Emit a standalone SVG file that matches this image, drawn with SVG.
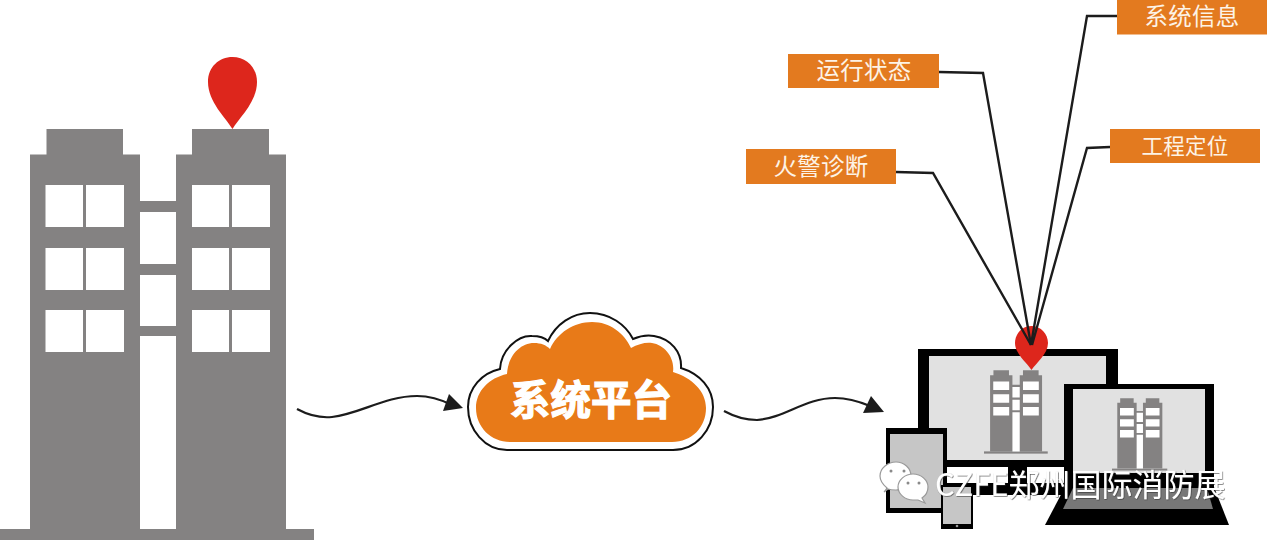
<svg xmlns="http://www.w3.org/2000/svg" width="1267" height="540" viewBox="0 0 1267 540">
<style>
.tw{fill:#848282}
.win{fill:#fff}
.pin{fill:#dd261c}
.box{fill:#e37a1f}
.lbl{font-family:"Noto Sans CJK SC","Noto Sans",sans-serif;font-size:23.5px;fill:#fdf3e6;text-anchor:middle;letter-spacing:.2px}
.blk{fill:#000}
.scr{fill:#e1e1e1}
.tab{fill:#c6c6c6}
.line{fill:none;stroke:#1c1c1c;stroke-width:2.400;stroke-linejoin:miter}
.wave{fill:none;stroke:#1c1c1c;stroke-width:2.200}
.head{fill:#1c1c1c}
.bub{fill:#fff;stroke:#9a9a9a;stroke-width:1.200}
.eye{fill:#8a8a8a}
</style>
<defs>
<filter id="sh" x="-5%" y="-20%" width="110%" height="140%">
<feDropShadow dx="0.6" dy="0.6" stdDeviation="0.7" flood-color="#333" flood-opacity="0.9"/>
</filter>
<g id="frame">
<path class="tw" d="M30 529V154.500H46.500V129H123V154.500H140V201H176V154.500H192V129H269V154.500H286V529Z"/>
<rect class="tw" x="0" y="529" width="314" height="11"/>
<path class="win" d="M140 212h36v52h-36zM140 275h36v51h-36zM140 336h36v193h-36z"/>
</g>
<g id="bld">
<use href="#frame"/>
<path class="win" d="M45.500 185h37.500v42h-37.500zM86 185h38v42h-38zM192 185h37v42h-37zM232 185h38v42h-38zM45.500 248h37.500v42h-37.500zM86 248h38v42h-38zM192 248h37v42h-37zM232 248h38v42h-38zM45.500 310h37.500v42h-37.500zM86 310h38v42h-38zM192 310h37v42h-37zM232 310h38v42h-38z"/>
</g>
<g id="bld-small">
<use href="#frame"/>
<path class="win" d="M45.500 185h78.500v42h-78.500zM192 185h78v42h-78zM45.500 248h78.500v42h-78.500zM192 248h78v42h-78zM45.500 310h78.500v42h-78.500zM192 310h78v42h-78z"/>
</g>
</defs>
<g id="building"><use href="#bld"/></g>
<g id="pin-building"><path class="pin" d="M232.500 129C226 118 208 102 208 82C208 67 219 57 232.500 57C246 57 257 67 257 82C257 102 239 118 232.500 129Z"/></g>
<g id="cloud">
<path fill="#fff" stroke="#111" stroke-width="2" d="M507 450C485 450 468 430 468 407C468 388 482 373 500 369C501 350 518 335 532 336C540 336 545 338 548 341C556 324 572 313 590 313C610 313 626 325 633 339C640 336 648 335 654 336C671 339 682 352 681 368C700 374 713 388 713 407C713 430 696 450 673 450Z"/>
<path fill="#e87a18" d="M510 442C491 442 476 427 476 408C476 391 489 378 507 374C508 356 520 343 534 343C541 343 546 345 550 349C557 333 574 322 592 322C610 322 624 333 631 348C638 344 646 342 652 343C665 345 675 358 673 372C692 378 706 391 706 408C706 427 692 442 672 442Z"/>
<text x="591" y="415" font-family="'Noto Sans CJK SC',sans-serif" font-weight="700" font-size="40.500" fill="#fff" stroke="#fff" stroke-width="1.200" text-anchor="middle">系统平台</text>
</g>
<g id="monitor">
<rect class="blk" x="918" y="349" width="200" height="118"/>
<rect class="scr" x="929" y="356" width="177" height="104"/>
<rect class="blk" x="1008" y="467" width="19" height="17"/>
<rect class="blk" x="947" y="483" width="118" height="12"/>
<use href="#bld-small" transform="translate(984 344) scale(.203)"/>
</g>
<g id="pin-monitor"><path class="pin" d="M1031.500 370C1027 363 1015 354 1015 343C1015 334 1022 326 1031.500 326C1041 326 1048 334 1048 343C1048 354 1036 363 1031.500 370Z"/></g>
<g id="tablet">
<rect class="blk" x="886" y="428" width="61" height="85"/>
<rect class="tab" x="890" y="434" width="53" height="74"/>
</g>
<g id="phone">
<rect class="blk" x="941" y="485" width="32" height="44"/>
<rect class="tab" x="943" y="487" width="28" height="37"/>
<circle cx="957" cy="526" r="1.300" fill="#999"/>
</g>
<g id="laptop">
<rect class="blk" x="1064" y="384" width="150" height="106"/>
<rect class="scr" x="1073" y="389" width="132" height="84"/>
<use href="#bld-small" transform="translate(1112 375.500) scale(.176)"/>
<path class="blk" d="M1065 487H1214L1229 525H1045Z"/>
<path fill="#777" d="M1073 488H1207L1213 509H1063Z"/>
</g>
<g id="connectors">
<path class="wave" d="M297 409C310 416 322 418 332 417C360 414 385 396 417 396C430 396 440 399 452 405"/>
<path class="head" d="M463 408L449 394L443 411Z"/>
<path class="wave" d="M724 411C735 417 747 420 757 420C785 418 805 398 835 398C848 398 858 401 870 406"/>
<path class="head" d="M884 412L871 396L863 413Z"/>
<path class="line" d="M896 172L933 173L1031 345"/>
<path class="line" d="M939 72L983 73L1031 345"/>
<path class="line" d="M1117 16L1087 16L1031 345"/>
<path class="line" d="M1110 147L1087 148L1032 345"/>
</g>
<g id="label-fire"><rect class="box" x="746" y="149" width="150" height="35"/><text class="lbl" x="821" y="175">火警诊断</text></g>
<g id="label-status"><rect class="box" x="788" y="54" width="151" height="34"/><text class="lbl" x="864" y="79">运行状态</text></g>
<g id="label-info"><rect class="box" x="1117" y="0" width="150" height="34.500"/><text class="lbl" x="1192" y="25">系统信息</text></g>
<g id="label-locate"><rect class="box" x="1110" y="129" width="150" height="34"/><text class="lbl" x="1185" y="153.500" style="font-size:21.500px">工程定位</text></g>
<g id="watermark">
<path class="bub" d="M887 488C881 483 880 478 880 476C880 468 888 462 896 462C904 462 911 468 911 476C911 484 904 490 896 490C893 490 891 490 888 489L884 492Z"/>
<circle class="eye" cx="891" cy="471" r="1.500"/><circle class="eye" cx="904" cy="471" r="1.500"/>
<path class="bub" d="M913 500C905 500 898 494 898 487C898 480 905 474 913 474C921 474 928 480 928 487C928 492 925 496 922 498L925 503L918 500Z"/>
<circle class="eye" cx="908" cy="483" r="1.500"/><circle class="eye" cx="919" cy="483" r="1.500"/>
<text x="935" y="496" font-family="'Noto Sans CJK SC','Noto Sans',sans-serif" font-size="31" fill="#fff" filter="url(#sh)">CZFE郑州国际消防展</text>
</g>
</svg>
